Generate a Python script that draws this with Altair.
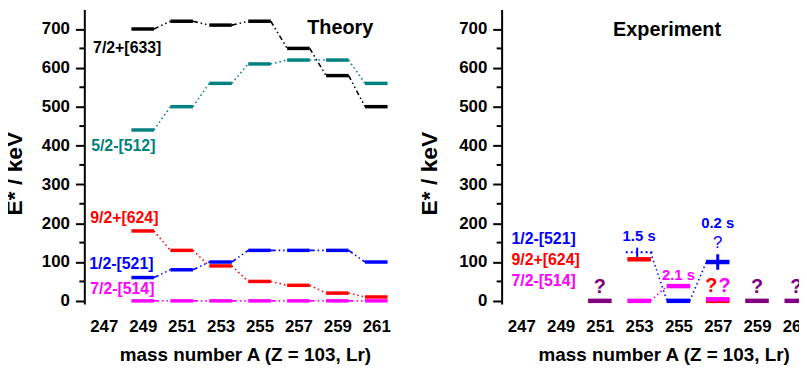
import altair as alt
import pandas as pd

FONT = "Arial"

# ---------------- data ----------------
mass_ticks = [247, 249, 251, 253, 255, 257, 259, 261]
y_major = [0, 100, 200, 300, 400, 500, 600, 700]
y_minor = [50, 150, 250, 350, 450, 550, 650]

orbitals = ["7/2+[633]", "5/2-[512]", "9/2+[624]", "1/2-[521]", "7/2-[514]", "unassigned"]
orbital_colors = ["#000000", "#008080", "#ff0000", "#0000ff", "#ff00ff", "#800080"]

# Theory (calculated single-particle levels)
theory_A = [249, 251, 253, 255, 257, 259, 261]
th_633 = [700, 720, 710, 720, 650, 580, 500]
th_512 = [440, 500, 560, 610, 620, 620, 560]
th_624 = [180, 130, 90, 50, 40, 20, 10]
th_521 = [60, 80, 100, 130, 130, 130, 100]
th_514 = [0, 0, 0, 0, 0, 0, 0]
theory_series = {
    "7/2+[633]": th_633,
    "5/2-[512]": th_512,
    "9/2+[624]": th_624,
    "1/2-[521]": th_521,
    "7/2-[514]": th_514,
}

# Theory labels
th_lab_text = ["7/2+[633]", "5/2-[512]", "9/2+[624]", "1/2-[521]", "7/2-[514]"]
th_lab_A = [246.45, 246.35, 246.3, 246.25, 246.3]
th_lab_E = [652, 399, 212, 94, 30]

# Experiment levels
exp_A = [251, 253, 253, 255, 255, 257, 257, 257, 259, 261]
exp_E = [0, 0, 107, 0, 38, 0, 4, 100, 0, 0]
exp_orb = ["unassigned", "7/2-[514]", "9/2+[624]", "1/2-[521]", "7/2-[514]",
           "9/2+[624]", "7/2-[514]", "1/2-[521]", "unassigned", "unassigned"]

# tentative level (A=253, 1/2-[521])
tent_A = [253]
tent_E = [125]
tent_lo = [113]
tent_hi = [137]

# uncertainty bar on 1/2-[521] in 257
err_A = [257]
err_lo = [80]
err_hi = [120]

# experimental connections
exl_orb = ["7/2-[514]", "1/2-[521]", "1/2-[521]"]
exl_A1 = [253, 253, 255]
exl_E1 = [0, 125, 0]
exl_A2 = [255, 255, 257]
exl_E2 = [38, 0, 100]

# Experiment labels
ex_lab_text = ["1/2-[521]", "9/2+[624]", "7/2-[514]"]
ex_lab_A = [246.5, 246.5, 246.5]
ex_lab_E = [158, 104, 51]

q_text = ["?", "?", "?", "?", "?"]
q_A = [251, 259, 261, 256.67, 257.35]
q_E = [35, 35, 35, 38, 38]
q_orb = ["unassigned", "unassigned", "unassigned", "9/2+[624]", "7/2-[514]"]

qb_A = [257]
qb_E = [148]

hl_text = ["1.5 s", "0.2 s", "2.1 s"]
hl_A = [253, 257, 255]
hl_E = [166, 201, 66]
hl_orb = ["1/2-[521]", "1/2-[521]", "7/2-[514]"]

# ---------------- helpers ----------------
HW = 0.58   # half width of a level bar (in mass units)
XDOM = [246, 262.5]
YDOM = [-8, 750]
DASHDOT = [5, 3, 1.5, 3, 1.5, 3]
DOT = [1.5, 3]
orbital_dash = [DASHDOT, DOT, DOT, DASHDOT, DASHDOT, DASHDOT]

color_scale = alt.Scale(domain=orbitals, range=orbital_colors)
dash_scale = alt.Scale(domain=orbitals, range=orbital_dash)

x_axis = alt.Axis(values=mass_ticks, domain=False, ticks=False, tickSize=0,
                  labelPadding=15, format="d", title="mass number A (Z = 103, Lr)",
                  titleFontSize=19, titlePadding=11, grid=False, labelFlush=False)


def y_axis(tp):
    return alt.Axis(values=y_major, tickSize=9, labelPadding=6, title="E* / keV",
                    titleFontSize=23, titlePadding=tp, titleY=165, grid=False, format="d")


def xenc(f, ax):
    return alt.X(f"{f}:Q", scale=alt.Scale(domain=XDOM, nice=False, zero=False), axis=ax)


def yenc(f, ax):
    return alt.Y(f"{f}:Q", scale=alt.Scale(domain=YDOM, nice=False, zero=False), axis=ax)


def minor_ticks(ya, xa):
    return alt.Chart(pd.DataFrame({"m": y_minor})).mark_rule(color="black", strokeWidth=2).encode(
        y=yenc("m", ya), x=alt.value(-5), x2=alt.value(0)
    )


# ---------------- theory panel ----------------
rows, links = [], []
for orb, vals in theory_series.items():
    for a, e in zip(theory_A, vals):
        rows.append({"A": a, "E": e, "orb": orb})
    for i in range(len(theory_A) - 1):
        links.append({"orb": orb, "A1": theory_A[i], "E1": vals[i],
                      "A2": theory_A[i + 1], "E2": vals[i + 1]})
th_levels = pd.DataFrame(rows)
th_links = pd.DataFrame(links)

yaL = y_axis(15)

th_link_layer = alt.Chart(th_links).transform_calculate(
    xa=f"datum.A1 + {HW}", xb=f"datum.A2 - {HW}"
).mark_rule(strokeWidth=1.6, strokeCap="butt").encode(
    x=xenc("xa", x_axis), x2="xb:Q", y=yenc("E1", yaL), y2="E2:Q",
    color=alt.Color("orb:N", scale=color_scale, legend=None),
    strokeDash=alt.StrokeDash("orb:N", scale=dash_scale, legend=None),
)

th_level_layer = alt.Chart(th_levels).transform_calculate(
    lo=f"datum.A - {HW}", hi=f"datum.A + {HW}"
).mark_rule(strokeWidth=3.5, strokeCap="butt").encode(
    x=xenc("lo", x_axis), x2="hi:Q", y=yenc("E", yaL),
    color=alt.Color("orb:N", scale=color_scale, legend=None),
)

th_lab_layer = alt.Chart(pd.DataFrame({"t": th_lab_text, "A": th_lab_A, "E": th_lab_E})).mark_text(
    font=FONT, fontWeight="bold", fontSize=16, align="left", baseline="middle"
).encode(
    x=xenc("A", x_axis), y=yenc("E", yaL), text="t:N",
    color=alt.Color("t:N", scale=color_scale, legend=None),
)

th_title = alt.Chart(pd.DataFrame({"t": ["Theory"], "A": [259.15], "E": [702]})).mark_text(
    font=FONT, fontWeight="bold", fontSize=20, align="center", baseline="middle", color="black"
).encode(x=xenc("A", x_axis), y=yenc("E", yaL), text="t:N")

left = alt.layer(
    th_link_layer, th_level_layer, th_lab_layer, th_title, minor_ticks(yaL, x_axis)
).properties(width=324, height=297)

# ---------------- experiment panel ----------------
yaR = y_axis(17)

ex_levels = pd.DataFrame({"A": exp_A, "E": exp_E, "orb": exp_orb})
ex_links = pd.DataFrame({"orb": exl_orb, "A1": exl_A1, "E1": exl_E1, "A2": exl_A2, "E2": exl_E2})

ex_link_layer = alt.Chart(ex_links).transform_calculate(
    xa=f"datum.A1 + {HW}", xb=f"datum.A2 - {HW}"
).mark_rule(strokeWidth=1.6, strokeCap="butt", strokeDash=DOT).encode(
    x=xenc("xa", x_axis), x2="xb:Q", y=yenc("E1", yaR), y2="E2:Q",
    color=alt.Color("orb:N", scale=color_scale, legend=None),
)

ex_level_layer = alt.Chart(ex_levels).transform_calculate(
    lo=f"datum.A - 0.6", hi=f"datum.A + 0.6"
).mark_rule(strokeWidth=4.5, strokeCap="butt").encode(
    x=xenc("lo", x_axis), x2="hi:Q", y=yenc("E", yaR),
    color=alt.Color("orb:N", scale=color_scale, legend=None),
)

tent_df = pd.DataFrame({"A": tent_A, "E": tent_E, "lo": tent_lo, "hi": tent_hi})
tent_line = alt.Chart(tent_df).transform_calculate(
    a1="datum.A - 0.68", a2="datum.A + 0.68"
).mark_rule(strokeWidth=2, strokeDash=[2, 3], color="#0000ff").encode(
    x=xenc("a1", x_axis), x2="a2:Q", y=yenc("E", yaR)
)
tent_arrow = alt.Chart(tent_df).transform_calculate(
    ax="datum.A - 0.1"
).mark_rule(strokeWidth=2, color="#0000ff").encode(
    x=xenc("ax", x_axis), y=yenc("lo", yaR), y2="hi:Q"
)

err_layer = alt.Chart(pd.DataFrame({"A": err_A, "lo": err_lo, "hi": err_hi})).mark_rule(
    strokeWidth=3, color="#0000ff"
).encode(x=xenc("A", x_axis), y=yenc("lo", yaR), y2="hi:Q")

ex_lab_layer = alt.Chart(pd.DataFrame({"t": ex_lab_text, "A": ex_lab_A, "E": ex_lab_E})).mark_text(
    font=FONT, fontWeight="bold", fontSize=16, align="left", baseline="middle"
).encode(
    x=xenc("A", x_axis), y=yenc("E", yaR), text="t:N",
    color=alt.Color("t:N", scale=color_scale, legend=None),
)

ex_title = alt.Chart(pd.DataFrame({"t": ["Experiment"], "A": [254.42], "E": [697]})).mark_text(
    font=FONT, fontWeight="bold", fontSize=20, align="center", baseline="middle", color="black"
).encode(x=xenc("A", x_axis), y=yenc("E", yaR), text="t:N")

q_layer = alt.Chart(pd.DataFrame({"t": q_text, "A": q_A, "E": q_E, "orb": q_orb})).mark_text(
    font=FONT, fontWeight="bold", fontSize=20, align="center", baseline="middle"
).encode(
    x=xenc("A", x_axis), y=yenc("E", yaR), text="t:N",
    color=alt.Color("orb:N", scale=color_scale, legend=None),
)

qb_layer = alt.Chart(pd.DataFrame({"t": ["?"], "A": qb_A, "E": qb_E})).mark_text(
    font=FONT, fontSize=17, align="center", baseline="middle", color="#0000ff"
).encode(x=xenc("A", x_axis), y=yenc("E", yaR), text="t:N")

hl_layer = alt.Chart(pd.DataFrame({"t": hl_text, "A": hl_A, "E": hl_E, "orb": hl_orb})).mark_text(
    font=FONT, fontWeight="bold", fontSize=15, align="center", baseline="middle"
).encode(
    x=xenc("A", x_axis), y=yenc("E", yaR), text="t:N",
    color=alt.Color("orb:N", scale=color_scale, legend=None),
)

right = alt.layer(
    ex_link_layer, ex_level_layer, tent_line, tent_arrow, err_layer,
    ex_lab_layer, ex_title, q_layer, qb_layer, hl_layer, minor_ticks(yaR, x_axis)
).properties(width=327, height=297)

chart = alt.hconcat(left, right, spacing=13).properties(
    padding={"left": -5, "top": 0, "right": -27, "bottom": 0}
).configure_view(stroke=None).configure_axis(
    labelFont=FONT, labelFontWeight="bold", labelFontSize=17, labelColor="black",
    titleFont=FONT, titleFontWeight="bold", titleColor="black",
    domainColor="black", domainWidth=2, tickColor="black", tickWidth=2,
)

chart.save("out.html", embed_options={"renderer": "svg", "actions": False})
